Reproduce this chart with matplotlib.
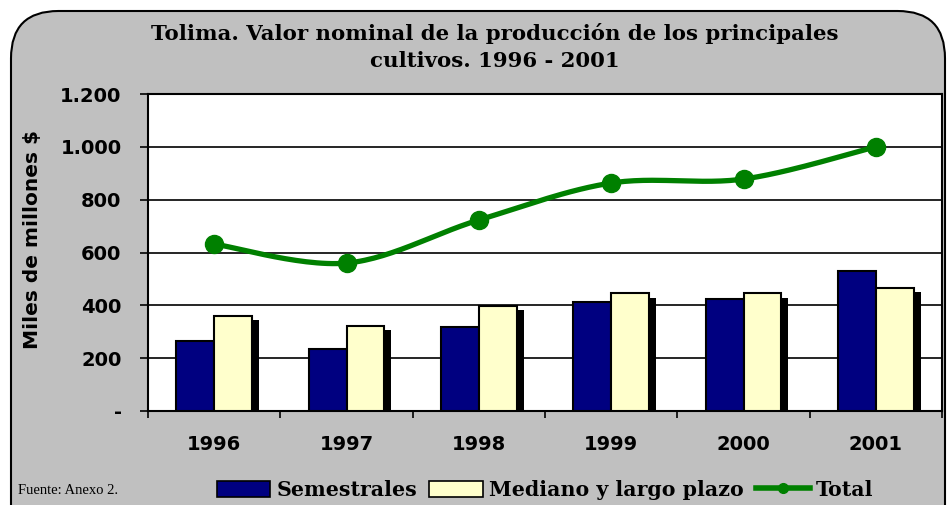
import numpy as np
import matplotlib.pyplot as plt
from matplotlib.patches import FancyBboxPatch, Patch
from matplotlib.lines import Line2D

years = ['1996', '1997', '1998', '1999', '2000', '2001']
semestrales = [265, 235, 318, 414, 424, 530]
mediano = [361, 323, 398, 445, 445, 467]
total = [632, 560, 723, 863, 878, 1000]
yticks = [0, 200, 400, 600, 800, 1000, 1200]
ylabels = ['-', '200', '400', '600', '800', '1.000', '1.200']

GRAY = '#C0C0C0'
NAVY = '#000080'
CREAM = '#FFFFCC'
GREEN = '#008000'


def smooth(xs, ys, n=30):
    # bezier through points, control points like excel's smoothed line
    xs = np.asarray(xs, float)
    ys = np.asarray(ys, float)
    px = np.concatenate([[xs[0]], xs, [xs[-1]]])
    py = np.concatenate([[ys[0]], ys, [ys[-1]]])
    ox, oy = [], []
    t = np.linspace(0, 1, n)
    for i in range(1, len(px) - 2):
        p0 = np.array([px[i], py[i]])
        p3 = np.array([px[i + 1], py[i + 1]])
        p1 = p0 + (np.array([px[i + 1], py[i + 1]]) - np.array([px[i - 1], py[i - 1]])) / 6
        p2 = p3 - (np.array([px[i + 2], py[i + 2]]) - np.array([px[i], py[i]])) / 6
        b = ((1 - t) ** 3)[:, None] * p0 + (3 * (1 - t) ** 2 * t)[:, None] * p1 \
            + (3 * (1 - t) * t ** 2)[:, None] * p2 + (t ** 3)[:, None] * p3
        ox.extend(b[:, 0])
        oy.extend(b[:, 1])
    return np.array(ox), np.array(oy)


fig = plt.figure(figsize=(9.47, 5.05), dpi=100)
fig.patch.set_facecolor('white')
frame = FancyBboxPatch((11 / 947, -0.1), 934 / 947, 1.1 - 11 / 505,
                       boxstyle='round,pad=0,rounding_size=0.05',
                       transform=fig.transFigure, facecolor=GRAY,
                       edgecolor='black', linewidth=1.5, mutation_aspect=947 / 505,
                       zorder=-10)
fig.patches.append(frame)

ax = fig.add_axes([148 / 947, 1 - 411 / 505, (942 - 148) / 947, (411 - 94) / 505])
ax.set_facecolor('white')

x = np.arange(len(years))
w = 0.287
ax.bar(x + 0.053, np.array(mediano) - 17, w, align='edge', color='black', zorder=2)
ax.bar(x - w, semestrales, w, align='edge', color=NAVY, edgecolor='black', linewidth=1.5, zorder=3)
ax.bar(x, mediano, w, align='edge', color=CREAM, edgecolor='black', linewidth=1.5, zorder=3)

sx, sy = smooth(x, total)
ax.plot(sx, sy, color=GREEN, linewidth=3.8, zorder=4, solid_capstyle='round')
ax.plot(x, total, 'o', color=GREEN, markersize=13, zorder=5)

ax.set_xlim(-0.5, 5.5)
ax.set_ylim(0, 1200)
ax.set_yticks(yticks)
ax.set_yticklabels(ylabels, fontsize=14, fontweight='bold', family='DejaVu Sans')
ax.set_xticks(x)
ax.set_xticklabels(years, fontsize=14, fontweight='bold', family='DejaVu Sans')
ax.set_xticks(np.arange(-0.5, 6, 1), minor=True)
ax.tick_params(axis='x', which='major', length=0, pad=17)
ax.tick_params(axis='x', which='minor', length=5, width=1.2, direction='out')
ax.tick_params(axis='y', length=6, width=1.2, direction='out', pad=13)
ax.grid(axis='y', color='black', linewidth=1.2, zorder=1)
ax.set_axisbelow(True)
for s in ax.spines.values():
    s.set_linewidth(1.5)
ax.set_ylabel('Miles de millones $', fontsize=14.5, fontweight='bold', family='DejaVu Sans')
ax.yaxis.set_label_coords(-0.133, 0.54)

fig.text(495 / 947, 1 - 33 / 505, 'Tolima. Valor nominal de la producción de los principales',
         ha='center', va='center', fontsize=15.3, fontweight='bold', family='DejaVu Serif')
fig.text(495 / 947, 1 - 61 / 505, 'cultivos. 1996 - 2001',
         ha='center', va='center', fontsize=15.3, fontweight='bold', family='DejaVu Serif')

fig.text(18 / 947, 1 - 490 / 505, 'Fuente: Anexo 2.', ha='left', va='center',
         fontsize=10.5, family='Liberation Serif')

handles = [Patch(facecolor=NAVY, edgecolor='black', linewidth=1.2),
           Patch(facecolor=CREAM, edgecolor='black', linewidth=1.2),
           Line2D([], [], color=GREEN, linewidth=4, marker='o', markersize=7)]
fig.legend(handles, ['Semestrales', 'Mediano y largo plazo', 'Total'],
           loc='center', bbox_to_anchor=(545 / 947, 1 - 490 / 505), ncol=3,
           frameon=False, handlelength=2.6, handleheight=0.8, handletextpad=0.3,
           columnspacing=0.6, prop={'family': 'DejaVu Serif', 'weight': 'bold', 'size': 14.8})

fig.savefig('out.png', dpi=100, facecolor='white')
